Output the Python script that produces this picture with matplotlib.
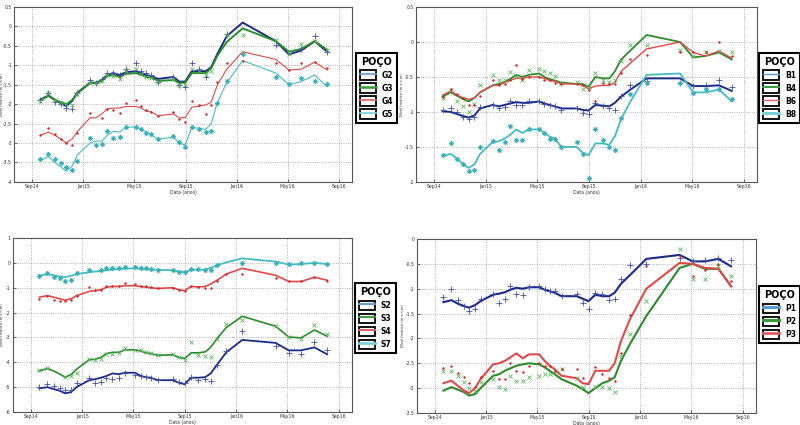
import numpy as np
import pandas as pd
import matplotlib
matplotlib.use("Agg")
import matplotlib.pyplot as plt
import matplotlib.dates as mdates
from matplotlib.lines import Line2D
from matplotlib.patches import Patch
from matplotlib.legend_handler import HandlerTuple

nan = np.nan

dates = pd.to_datetime([
    "2014-09-21", "2014-10-10", "2014-10-25", "2014-11-09", "2014-11-21", "2014-12-05", "2014-12-18",
    "2015-01-17", "2015-01-31", "2015-02-14", "2015-02-27", "2015-03-13", "2015-03-28", "2015-04-12",
    "2015-05-06", "2015-05-19", "2015-05-31", "2015-06-12", "2015-06-28", "2015-08-03", "2015-08-17",
    "2015-08-31", "2015-09-16", "2015-10-03", "2015-10-19", "2015-11-01", "2015-11-16", "2015-12-08",
    "2016-01-15", "2016-04-03", "2016-05-04", "2016-06-02", "2016-07-04", "2016-08-03"])

tick_dates = pd.to_datetime(["2014-09-01", "2015-01-01", "2015-05-01", "2015-09-01",
                             "2016-01-01", "2016-05-01", "2016-09-01"])

# ---- Panel G ----
G_names = ["G2", "G3", "G4", "G5"]
G2_line = [-1.88,-1.78,-1.88,-1.98,-2.05,-1.92,-1.7,-1.45,-1.45,-1.38,-1.25,-1.2,-1.25,-1.18,-1.15,-1.2,-1.25,-1.28,-1.35,-1.3,-1.42,-1.42,-1.15,-1.15,-1.15,-1.05,-0.7,-0.25,0.1,-0.38,-0.72,-0.62,-0.38,-0.65]
G2_obs = [-1.9,-1.72,-1.95,-2.0,-2.1,-2.12,-1.72,-1.38,-1.45,-1.35,-1.2,-1.2,-1.25,-1.1,-0.95,-1.15,-1.2,-1.25,-1.42,-1.3,-1.5,-1.55,-0.95,-1.1,-1.3,nan,nan,-0.2,nan,-0.48,nan,-0.58,-0.25,-0.65]
G3_line = [-1.9,-1.78,-1.9,-1.95,-2.0,-1.9,-1.72,-1.45,-1.45,-1.4,-1.28,-1.25,-1.3,-1.22,-1.2,-1.25,-1.3,-1.32,-1.4,-1.38,-1.45,-1.45,-1.2,-1.2,-1.2,-1.08,-0.75,-0.4,-0.05,-0.38,-0.65,-0.58,-0.38,-0.6]
G3_obs = [-1.92,-1.7,-1.9,-1.98,-2.0,-2.02,-1.75,-1.45,-1.45,-1.4,-1.25,-1.28,-1.35,-1.15,-1.1,-1.22,-1.3,-1.32,-1.42,-1.35,-1.5,-1.5,-1.1,-1.15,-1.25,-1.15,nan,-0.22,-0.22,-0.35,-0.7,-0.45,-0.38,-0.6]
G4_line = [-2.8,-2.72,-2.8,-2.9,-3.0,-2.9,-2.7,-2.35,-2.35,-2.25,-2.12,-2.1,-2.1,-2.06,-2.06,-2.1,-2.18,-2.2,-2.3,-2.25,-2.35,-2.35,-2.08,-2.05,-2.02,-1.95,-1.5,-1.1,-0.65,-0.85,-1.12,-1.1,-0.92,-1.12]
G4_obs = [-2.8,-2.62,-2.78,-2.9,-3.0,-3.05,-2.75,-2.22,nan,-2.35,-2.12,-2.15,-2.22,-1.97,-1.9,-2.05,-2.15,-2.2,-2.3,-2.2,-2.37,-2.45,-1.93,-2.02,-2.25,-2.02,-1.42,-0.93,-0.9,-0.95,-1.12,-0.95,-0.92,-1.08]
G5_line = [-3.45,-3.35,-3.5,-3.62,-3.72,-3.6,-3.3,-3.0,-2.95,-2.95,-2.8,-2.7,-2.72,-2.6,-2.58,-2.65,-2.72,-2.8,-2.9,-2.85,-3.0,-3.05,-2.6,-2.62,-2.65,-2.5,-1.95,-1.45,-0.88,-1.2,-1.5,-1.42,-1.25,-1.55]
G5_obs = [-3.42,-3.28,-3.42,-3.52,-3.62,-3.7,-3.45,-2.87,-3.05,-3.02,-2.7,-2.87,-2.85,-2.6,-2.58,-2.65,-2.75,-2.78,-2.9,-2.82,-2.98,-3.1,-2.58,-2.65,-2.72,-2.7,-1.98,-1.4,-0.7,-1.3,-1.48,-1.32,-1.4,-1.48]

# ---- Panel B ----
B_names = ["B1", "B4", "B6", "B8"]
B1_line = [-0.99,-1.0,-1.03,-1.06,-1.08,-1.05,-0.95,-0.9,-0.92,-0.9,-0.88,-0.86,-0.87,-0.87,-0.85,-0.88,-0.9,-0.92,-0.95,-0.95,-0.97,-0.98,-0.9,-0.91,-0.92,-0.87,-0.78,-0.68,-0.52,-0.52,-0.63,-0.63,-0.62,-0.7]
B1_obs = [-0.97,-0.95,-1.0,-1.07,-1.1,-1.07,-0.93,-0.9,-0.95,-0.93,-0.85,-0.9,-0.9,-0.85,-0.85,-0.88,-0.9,-0.92,-0.97,-0.95,-1.02,-1.03,-0.87,-0.92,-0.95,-0.97,-0.77,-0.62,-0.56,-0.58,-0.63,-0.62,-0.55,-0.65]
B4_line = [-0.78,-0.72,-0.77,-0.82,-0.85,-0.8,-0.72,-0.62,-0.6,-0.57,-0.53,-0.47,-0.5,-0.47,-0.45,-0.5,-0.53,-0.55,-0.58,-0.6,-0.6,-0.64,-0.5,-0.52,-0.52,-0.42,-0.25,-0.12,0.1,0.0,-0.22,-0.2,-0.15,-0.25]
B4_obs = [-0.8,-0.68,-0.85,-0.92,-1.0,-0.88,-0.62,-0.47,-0.55,-0.55,-0.43,-0.48,-0.55,-0.4,-0.38,-0.42,-0.45,-0.48,-0.58,-0.57,-0.67,-0.65,-0.45,-0.55,-0.57,-0.55,-0.27,-0.05,-0.05,-0.12,-0.2,-0.15,-0.13,-0.15]
B6_line = [-0.76,-0.7,-0.76,-0.8,-0.82,-0.8,-0.72,-0.62,-0.62,-0.58,-0.55,-0.52,-0.52,-0.5,-0.5,-0.52,-0.55,-0.56,-0.6,-0.6,-0.62,-0.67,-0.63,-0.62,-0.62,-0.58,-0.42,-0.3,-0.1,0.0,-0.15,-0.2,-0.13,-0.23]
B6_obs = [-0.78,-0.67,-0.75,-0.8,-0.9,-0.9,-0.77,-0.55,-0.62,-0.6,-0.55,-0.33,-0.53,-0.5,-0.5,-0.55,-0.55,-0.58,-0.6,-0.6,-0.62,-0.68,-0.85,-0.58,-0.6,-0.6,-0.45,-0.25,-0.18,-0.15,-0.15,-0.15,0.0,-0.2]
B8_line = [-1.63,-1.6,-1.67,-1.75,-1.8,-1.75,-1.6,-1.43,-1.42,-1.38,-1.33,-1.25,-1.3,-1.25,-1.25,-1.3,-1.35,-1.38,-1.5,-1.5,-1.58,-1.62,-1.45,-1.45,-1.47,-1.35,-1.1,-0.85,-0.47,-0.45,-0.72,-0.72,-0.68,-0.85]
B8_obs = [-1.62,-1.45,-1.67,-1.75,-1.84,-1.83,-1.5,-1.42,-1.55,-1.43,-1.2,-1.4,-1.4,-1.25,-1.24,-1.3,-1.38,-1.38,-1.5,-1.43,-1.6,-1.95,-1.24,-1.4,-1.5,-1.55,-1.08,-0.75,-0.58,-0.58,-0.73,-0.67,-0.67,-0.82]

# ---- Panel S ----
S_names = ["S2", "S3", "S4", "S7"]
S2_line = [-5.05,-5.0,-5.08,-5.15,-5.25,-5.2,-5.0,-4.72,-4.68,-4.62,-4.55,-4.45,-4.48,-4.42,-4.42,-4.55,-4.6,-4.62,-4.72,-4.72,-4.82,-4.88,-4.62,-4.62,-4.6,-4.45,-4.1,-3.6,-3.1,-3.22,-3.52,-3.52,-3.4,-3.68]
S2_obs = [-5.0,-4.88,-4.95,-5.05,-5.1,-5.1,-4.85,-4.65,-4.82,-4.8,-4.65,-4.68,-4.62,-4.45,-4.52,-4.55,-4.6,-4.62,-4.72,-4.68,-4.78,-4.85,-4.6,-4.7,-4.68,-4.77,-4.1,-3.55,-2.75,-3.35,-3.62,-3.65,-3.2,-3.5]
S3_line = [-4.35,-4.25,-4.35,-4.48,-4.6,-4.5,-4.28,-3.9,-3.88,-3.8,-3.65,-3.6,-3.6,-3.5,-3.5,-3.55,-3.62,-3.65,-3.72,-3.7,-3.8,-3.85,-3.62,-3.62,-3.58,-3.4,-3.05,-2.6,-2.15,-2.55,-2.98,-3.02,-2.7,-2.95]
S3_obs = [-4.3,-4.22,nan,nan,-4.6,-4.55,-4.45,-3.88,-3.9,-3.88,-3.65,-3.65,-3.62,-3.42,-3.5,-3.5,-3.58,-3.62,-3.72,-3.68,-3.78,-3.92,-3.2,-3.72,-3.75,-3.8,-3.05,-2.45,-2.3,-2.55,-3.0,-3.08,-2.52,-2.88]
S4_line = [-1.38,-1.32,-1.38,-1.45,-1.5,-1.45,-1.32,-1.15,-1.12,-1.08,-0.98,-0.95,-0.95,-0.92,-0.92,-0.95,-0.98,-1.0,-1.03,-1.0,-1.08,-1.12,-0.95,-0.97,-0.95,-0.85,-0.7,-0.45,-0.22,-0.5,-0.75,-0.75,-0.58,-0.7]
S4_obs = [-1.45,-1.35,-1.5,-1.52,-1.55,-1.5,-1.32,-0.98,-1.1,-1.1,-0.95,-0.95,-0.92,-0.82,-0.85,-0.95,-0.95,-0.98,-1.03,-1.0,-1.08,-1.12,-0.95,-0.97,-1.0,-1.0,-0.72,-0.45,-0.45,-0.62,-0.75,-0.75,-0.58,-0.72]
S7_line = [-0.52,-0.45,-0.5,-0.55,-0.57,-0.52,-0.45,-0.38,-0.35,-0.33,-0.3,-0.27,-0.25,-0.23,-0.22,-0.23,-0.25,-0.27,-0.28,-0.3,-0.35,-0.38,-0.28,-0.28,-0.27,-0.2,-0.1,0.02,0.18,0.05,-0.07,-0.05,0.0,-0.05]
S7_obs = [-0.52,-0.4,-0.58,-0.62,-0.72,-0.68,-0.4,-0.27,nan,-0.3,-0.22,-0.22,-0.2,-0.17,-0.17,-0.2,-0.22,-0.25,-0.27,-0.27,-0.35,-0.37,-0.23,-0.23,-0.3,-0.3,-0.1,nan,0.0,0.0,-0.05,0.0,0.0,-0.03]

# ---- Panel P ----
P_names = ["P1", "P2", "P3"]
P1_line = [-1.27,-1.23,-1.3,-1.35,-1.38,-1.33,-1.25,-1.12,-1.1,-1.07,-1.02,-0.98,-1.0,-0.97,-0.97,-1.02,-1.05,-1.08,-1.15,-1.15,-1.2,-1.25,-1.12,-1.15,-1.15,-1.08,-0.9,-0.72,-0.4,-0.32,-0.45,-0.45,-0.4,-0.55]
P1_obs = [-1.17,-1.0,-1.23,-1.35,-1.45,-1.4,-1.2,-1.1,-1.28,-1.2,-0.95,-1.1,-1.12,-0.97,-0.95,-1.0,-1.05,-1.05,-1.15,-1.1,-1.28,-1.4,-1.08,-1.1,-1.22,-1.2,-0.8,-0.53,-0.5,-0.38,-0.45,-0.43,-0.38,-0.42]
P2_line = [-3.05,-2.98,-3.03,-3.08,-3.15,-3.12,-3.0,-2.75,-2.72,-2.65,-2.6,-2.55,-2.52,-2.5,-2.52,-2.58,-2.65,-2.72,-2.82,-2.95,-3.02,-3.1,-3.0,-2.9,-2.85,-2.78,-2.45,-2.1,-1.55,-0.58,-0.5,-0.6,-0.6,-0.95]
P2_obs = [-2.65,-2.65,-2.75,-2.88,-3.0,-3.05,-2.88,-2.82,-2.97,-3.02,-2.75,-2.85,-2.85,-2.78,-2.75,-2.72,-2.72,-2.65,-2.62,-2.8,-2.98,nan,-2.97,-2.97,-3.0,-3.08,-2.35,-1.92,-1.25,-0.2,-0.8,-0.8,-0.55,-0.75]
P3_line = [-2.9,-2.85,-2.95,-3.05,-3.1,-3.0,-2.82,-2.52,-2.5,-2.45,-2.38,-2.3,-2.4,-2.32,-2.32,-2.45,-2.55,-2.62,-2.75,-2.8,-2.9,-2.92,-2.65,-2.65,-2.65,-2.5,-2.05,-1.6,-1.0,-0.48,-0.5,-0.58,-0.6,-0.95]
P3_obs = [-2.6,-2.55,-2.7,-2.78,-2.9,-2.97,-2.78,-2.65,-2.82,-2.82,-2.5,-2.65,-2.68,-2.55,-2.5,-2.55,-2.55,-2.65,-2.62,-2.62,-2.8,nan,-2.57,-2.72,-2.8,-2.85,-2.3,-1.52,-0.55,-0.35,-0.75,-0.62,-0.5,-0.85]

# ---- styles ----
line_col = ["#1c2a8a", "#2b8c2b", "#e24848", "#45bcc4"]
mark_col = ["#4050a8", "#5cb45c", "#d02828", "#40b0b8"]
leg_col = ["#5b9bd5", "#3a9a3a", "#e06060", "#7ccfd8"]
markers = ["+", "x", ".", (8, 2, 0)]
msizes = [4.0, 3.2, 2.2, 3.6]

fig = plt.figure(figsize=(8, 4.25), dpi=100)

panels = [
    dict(pos=[0.0175, 0.572, 0.4225, 0.4115], names=G_names,
         lines=[G2_line, G3_line, G4_line, G5_line], obs=[G2_obs, G3_obs, G4_obs, G5_obs],
         ylim=(-4, 0.5), yticks=np.arange(-4, 0.51, 0.5), lw=[1.4, 1.4, 0.8, 0.8],
         leg=(0.445, 0.876), legw=[1.2, 1.8, 1.2, 1.2], ylab_x=-0.029),
    dict(pos=[0.52, 0.572, 0.426, 0.4115], names=B_names,
         lines=[B1_line, B4_line, B6_line, B8_line], obs=[B1_obs, B4_obs, B6_obs, B8_obs],
         ylim=(-2, 0.5), yticks=np.arange(-2, 0.51, 0.5), lw=[1.4, 1.3, 1.0, 1.3],
         leg=(0.949, 0.876), legw=[1.0, 1.4, 1.0, 2.2], ylab_x=-0.035),
    dict(pos=[0.016, 0.0306, 0.424, 0.4094], names=S_names,
         lines=[S2_line, S3_line, S4_line, S7_line], obs=[S2_obs, S3_obs, S4_obs, S7_obs],
         ylim=(-6, 1), yticks=np.arange(-6, 1.01, 1), lw=[1.3, 1.2, 1.2, 1.3],
         leg=(0.444, 0.334), legw=[1.4, 1.4, 1.4, 2.0], ylab_x=-0.026),
    dict(pos=[0.521, 0.0282, 0.424, 0.4094], names=P_names,
         lines=[P1_line, P2_line, P3_line], obs=[P1_obs, P2_obs, P3_obs],
         ylim=(-3.5, 0), yticks=np.arange(-3.5, 0.01, 0.5), lw=[1.5, 1.5, 1.5],
         leg=(0.949, 0.327), legw=[2.2, 2.2, 2.0], ylab_x=-0.035),
]

xlim = (pd.Timestamp("2014-07-20"), pd.Timestamp("2016-10-01"))

for p in panels:
    ax = fig.add_axes(p["pos"])
    for i, name in enumerate(p["names"]):
        ax.plot(dates, p["lines"][i], color=line_col[i], lw=p["lw"][i], zorder=3)
        ax.plot(dates, p["obs"][i], linestyle="none", marker=markers[i], ms=msizes[i],
                mew=0.6, color=mark_col[i], zorder=4)
    ax.set_xlim(xlim)
    ax.set_ylim(p["ylim"])
    ax.set_yticks(p["yticks"])
    ax.set_yticklabels([("%g" % v) for v in p["yticks"]])
    ax.set_xticks(tick_dates)
    ax.xaxis.set_major_formatter(mdates.DateFormatter("%b%y"))
    ax.grid(True, linestyle=":", color="#a0a0a0", lw=0.6)
    ax.tick_params(labelsize=3.3, direction="in", length=2, width=0.5, pad=1.5,
                   colors="#333333")
    for s in ax.spines.values():
        s.set_color("#555555")
        s.set_linewidth(0.8)
    ax.set_xlabel("Data (anos)", fontsize=3.3, labelpad=1, color="#333333")
    ax.set_ylabel("Nível freático (m s.n.m)", fontsize=2.6, color="#333333")
    ax.yaxis.set_label_coords(p["ylab_x"], 0.5)

    handles = []
    for i, name in enumerate(p["names"]):
        box = Patch(facecolor="white", edgecolor="black", lw=1.3)
        ln = Line2D([], [], color=leg_col[i], lw=p["legw"][i])
        handles.append((box, ln))
    leg = fig.legend(handles, p["names"], loc="upper left", bbox_to_anchor=p["leg"],
                     handler_map={tuple: HandlerTuple(ndivide=1)},
                     title="POÇO", title_fontproperties={"weight": "bold", "size": 7},
                     prop={"weight": "bold", "size": 5.5},
                     handlelength=2.1, handleheight=1.55, labelspacing=0.45,
                     handletextpad=0.7, borderpad=0.55, borderaxespad=0,
                     fancybox=False, edgecolor="black", framealpha=1)
    leg.get_frame().set_linewidth(1.5)

fig.savefig("out.png", dpi=100)
